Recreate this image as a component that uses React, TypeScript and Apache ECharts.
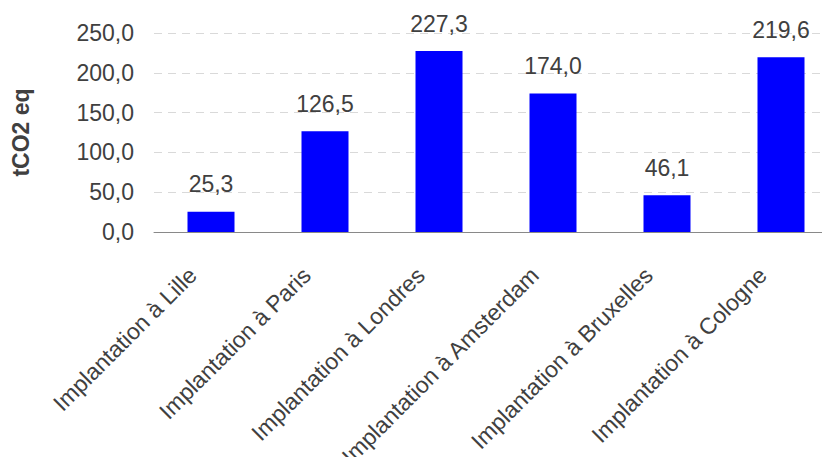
import React, { useEffect, useRef } from "react";
import * as echarts from "echarts";

const categories = [
  "Implantation à Lille",
  "Implantation à Paris",
  "Implantation à Londres",
  "Implantation à Amsterdam",
  "Implantation à Bruxelles",
  "Implantation à Cologne",
];
const emissions = [25.3, 126.5, 227.3, 174.0, 46.1, 219.6];
const yTicks = { min: 0, max: 250, interval: 50 };

const FONT = "'Liberation Sans', Arial, sans-serif";
const TEXT = "#404040";
const SIZE = 23;

const fr = (v: number) => v.toFixed(1).replace(".", ",");

export default function App() {
  const ref = useRef<HTMLDivElement>(null);

  useEffect(() => {
    if (!ref.current) return;
    const chart = echarts.init(ref.current, undefined, { renderer: "svg" });
    chart.setOption({
      animation: false,
      backgroundColor: "#ffffff",
      grid: {
        left: 154,
        top: 33,
        width: 684,
        height: 199,
        containLabel: false,
        outerBoundsMode: "none",
      },
      xAxis: {
        type: "category",
        data: categories,
        axisLine: { show: true, lineStyle: { color: "#898989", width: 1 } },
        axisTick: { show: false },
        axisLabel: {
          rotate: 45,
          margin: 21,
          padding: [0, 26, 0, 0],
          interval: 0,
          color: TEXT,
          fontFamily: FONT,
          fontSize: SIZE,
        },
      },
      yAxis: {
        type: "value",
        min: yTicks.min,
        max: yTicks.max,
        interval: yTicks.interval,
        name: "tCO2 eq",
        nameLocation: "middle",
        nameGap: 122,
        nameRotate: 90,
        nameTextStyle: {
          color: TEXT,
          fontFamily: FONT,
          fontSize: SIZE,
          fontWeight: "bold",
        },
        axisLine: { show: false },
        axisTick: { show: false },
        axisLabel: {
          margin: 20,
          color: TEXT,
          fontFamily: FONT,
          fontSize: SIZE,
          formatter: (v: number) => fr(v),
        },
        splitLine: {
          show: true,
          lineStyle: { color: "#d9d9d9", width: 1, type: [8, 6] },
        },
      },
      series: [
        {
          type: "bar",
          data: emissions,
          barWidth: 47,
          itemStyle: { color: "#0000ff" },
          label: {
            show: true,
            position: "top",
            distance: 16,
            color: TEXT,
            fontFamily: FONT,
            fontSize: SIZE,
            formatter: (p: any) => fr(p.value),
          },
        },
      ],
    });
    return () => chart.dispose();
  }, []);

  return (
    <div
      ref={ref}
      style={{ position: "fixed", left: 0, top: 0, width: 822, height: 457 }}
    />
  );
}
